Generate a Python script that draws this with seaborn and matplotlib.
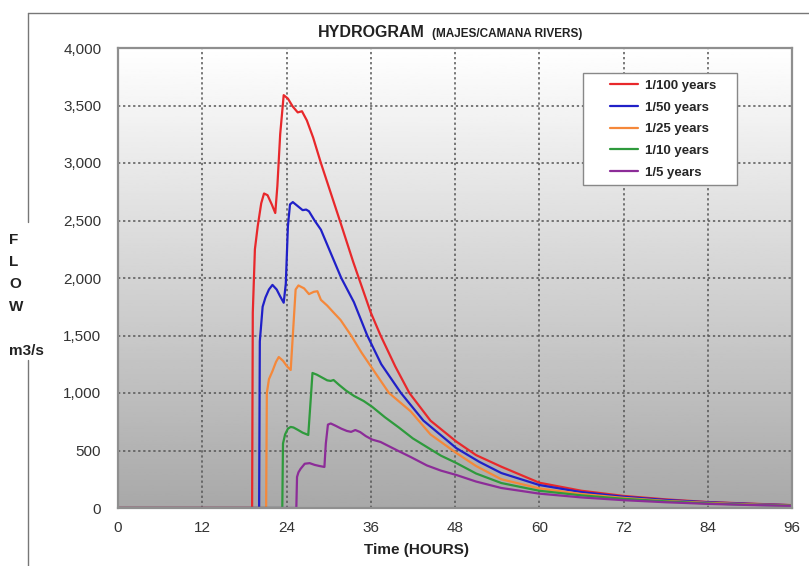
import numpy as np
import pandas as pd
import seaborn as sns
import matplotlib.pyplot as plt
from matplotlib.lines import Line2D
from matplotlib.legend_handler import HandlerLine2D
from matplotlib.ticker import FuncFormatter, MultipleLocator

# values (hours, m3/s)
t_100 = [0, 19.1, 19.2, 19.5, 19.9, 20.4, 20.8, 21.3, 21.9, 22.4, 22.7, 23.1, 23.6, 24.2, 24.9, 25.6, 26.2, 26.9,
         27.8, 28.9, 30.3, 31.7, 33.5, 36.0, 37.4, 39.5, 41.5, 44.5, 48.2, 51.0, 54.6, 60.0, 66.0, 72.0, 78.0, 84.0,
         90.0, 96.0]
q_100 = [0, 0, 1700, 2250, 2450, 2650, 2735, 2720, 2640, 2565, 2800, 3250, 3590, 3560, 3490, 3440, 3450, 3370,
         3220, 3000, 2740, 2480, 2140, 1700, 1500, 1230, 1000, 760, 577, 460, 359, 220, 150, 105, 75, 52, 38, 25]

t_50 = [0, 20.1, 20.2, 20.6, 21.0, 21.5, 22.0, 22.6, 23.1, 23.6, 23.9, 24.2, 24.5, 24.9, 25.5, 26.3, 26.8, 27.2,
        28.0, 28.9, 30.3, 31.8, 33.6, 35.5, 37.5, 40.3, 43.5, 48.2, 51.5, 54.6, 60.0, 66.0, 72.0, 78.0, 84.0, 90.0,
        96.0]
q_50 = [0, 0, 1450, 1750, 1830, 1900, 1940, 1900, 1840, 1785, 1950, 2450, 2640, 2660, 2630, 2590, 2595, 2580,
        2500, 2420, 2217, 2000, 1790, 1500, 1250, 1000, 760, 520, 400, 304, 200, 138, 98, 70, 50, 36, 24]

t_25 = [0, 21.1, 21.2, 21.5, 22.0, 22.5, 22.9, 23.5, 24.1, 24.6, 24.9, 25.3, 25.7, 26.5, 27.2, 27.9, 28.4, 28.9,
        29.8, 30.7, 31.7, 33.2, 34.7, 36.2, 38.6, 41.7, 44.5, 48.2, 51.0, 54.6, 60.0, 66.0, 72.0, 78.0, 84.0, 90.0,
        96.0]
q_25 = [0, 0, 1000, 1120, 1190, 1270, 1313, 1280, 1230, 1200, 1500, 1900, 1935, 1910, 1860, 1880, 1885, 1810,
        1760, 1700, 1635, 1500, 1350, 1215, 1000, 840, 640, 478, 365, 250, 170, 122, 88, 62, 45, 32, 22]

t_10 = [0, 23.4, 23.5, 23.8, 24.2, 24.6, 25.0, 25.6, 26.3, 27.1, 27.4, 27.7, 28.3, 28.9, 29.8, 30.3, 30.7, 31.5,
        32.5, 33.6, 35.0, 36.2, 38.0, 40.0, 42.0, 44.0, 46.0, 48.2, 51.0, 54.6, 60.0, 66.0, 72.0, 78.0, 84.0, 90.0,
        96.0]
q_10 = [0, 0, 560, 640, 690, 705, 700, 680, 655, 635, 900, 1174, 1160, 1140, 1110, 1105, 1113, 1070,
        1020, 975, 930, 880, 790, 700, 605, 530, 455, 391, 300, 217, 150, 110, 80, 58, 40, 28, 20]

t_5 = [0, 25.4, 25.5, 25.7, 26.0, 26.6, 27.3, 28.0, 28.7, 29.4, 29.6, 29.9, 30.3, 31.0, 31.8, 32.6, 33.2, 33.8,
       34.5, 35.3, 36.2, 37.4, 38.5, 39.8, 41.7, 44.0, 46.0, 48.2, 51.0, 54.6, 60.0, 66.0, 72.0, 78.0, 84.0, 90.0,
       96.0]
q_5 = [0, 0, 270, 310, 340, 385, 390, 375, 365, 357, 560, 725, 735, 715, 690, 670, 662, 678,
       660, 625, 595, 574, 540, 500, 443, 370, 325, 287, 230, 174, 125, 92, 68, 50, 36, 26, 18]

periods = ['1/100 years', '1/50 years', '1/25 years', '1/10 years', '1/5 years']
colors = ['#e8282b', '#2020c8', '#f5883a', '#2e9a3c', '#8c2c98']

frames = []
for name, t, q in zip(periods, [t_100, t_50, t_25, t_10, t_5], [q_100, q_50, q_25, q_10, q_5]):
    frames.append(pd.DataFrame({'Time': t, 'Flow': q, 'Period': name}))
df = pd.concat(frames, ignore_index=True)

sns.set_style('white')
plt.rcParams['font.family'] = ['Liberation Sans', 'DejaVu Sans']

W, H = 809, 566
fig = plt.figure(figsize=(W / 100, H / 100), dpi=100)
ax = fig.add_axes([118 / W, 58 / H, 674 / W, 460 / H])

# white-to-grey gradient behind the plot
grad = np.linspace(0.66, 1.0, 256).reshape(-1, 1)
ax.imshow(grad, extent=[0, 96, 0, 4000], origin='lower', aspect='auto',
          cmap='gray', vmin=0, vmax=1, zorder=0)

sns.lineplot(data=df, x='Time', y='Flow', hue='Period', hue_order=periods,
             palette=colors, estimator=None, linewidth=1.6, ax=ax)

ax.set_xlim(0, 96)
ax.set_ylim(0, 4000)
ax.xaxis.set_major_locator(MultipleLocator(12))
ax.yaxis.set_major_locator(MultipleLocator(500))
ax.yaxis.set_major_formatter(FuncFormatter(lambda v, p: f'{int(v):,}'))
ax.set_xlabel('')
ax.set_ylabel('')
ax.grid(True, color='#555555', linestyle=(0, (1.5, 1.8)), linewidth=1.1)
ax.tick_params(length=0, labelsize=11, labelcolor='#333333')
ax.tick_params(axis='x', pad=9)
ax.tick_params(axis='y', pad=12)
for s in ax.spines.values():
    s.set_color('#8f8f8f')
    s.set_linewidth(1.6)


# legend line drawn with some empty room on its left, like the reference
class ShiftedLine(HandlerLine2D):
    def create_artists(self, legend, orig_handle, xdescent, ydescent, width, height, fontsize, trans):
        shift = 1.6 * fontsize
        return super().create_artists(legend, orig_handle, xdescent - shift, ydescent,
                                      width - shift, height, fontsize, trans)


handles, labels = ax.get_legend_handles_labels()
labels = [lab + '    ' for lab in labels]
ax.legend(handles, labels, loc='upper right', bbox_to_anchor=(737 / W, 1 - 73 / H),
          bbox_transform=fig.transFigure, prop={'weight': 'bold', 'size': 9.5},
          frameon=True, fancybox=False, edgecolor='#888888', framealpha=1,
          borderpad=0.5, borderaxespad=0, labelspacing=0.72, handlelength=3.7,
          handletextpad=0.5, handler_map={Line2D: ShiftedLine()})

# titles and labels
fig.text(318 / W, 1 - 37 / H, 'HYDROGRAM', fontsize=11.5, fontweight='bold',
         ha='left', va='baseline', color='#222222')
fig.text(432 / W, 1 - 37 / H, '(MAJES/CAMANA RIVERS)', fontsize=8.5, fontweight='bold',
         ha='left', va='baseline', color='#222222')
fig.text(416 / W, 1 - 550 / H, 'Time (HOURS)', fontsize=11, fontweight='bold',
         ha='center', va='center', color='#222222')
fig.text(9 / W, 1 - 233 / H, 'F\nL\nO\nW\n\nm3/s', fontsize=11, fontweight='bold',
         ha='left', va='top', linespacing=1.75, color='#222222')

# outer frame lines
frame_kw = dict(transform=fig.transFigure, color='#777777', linewidth=1)
fig.add_artist(Line2D([28 / W, 1], [1 - 13 / H, 1 - 13 / H], **frame_kw))
fig.add_artist(Line2D([28 / W, 28 / W], [1 - 13 / H, 1 - 222 / H], **frame_kw))
fig.add_artist(Line2D([28 / W, 28 / W], [1 - 360 / H, 0], **frame_kw))

fig.savefig('out.png', dpi=100)
